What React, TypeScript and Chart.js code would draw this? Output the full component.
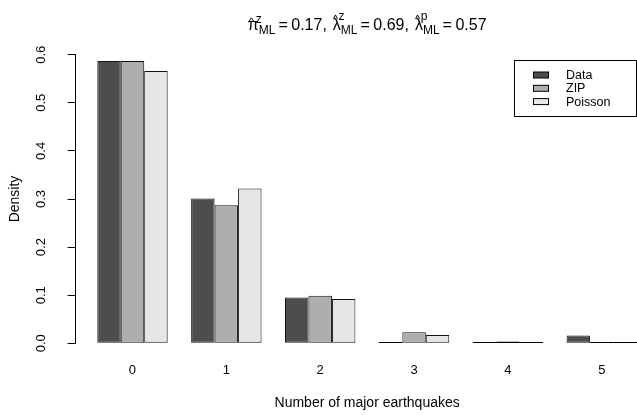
import React, { useEffect, useRef } from 'react';
import { Chart, registerables } from 'chart.js';

Chart.register(...registerables);

const FONT = '"Liberation Sans", Arial, Helvetica, sans-serif';

// ---- data ----
const categories = ['0', '1', '2', '3', '4', '5'];
const seriesNames = ['Data', 'ZIP', 'Poisson'];
const dataValues = [0.587, 0.301, 0.095, 0, 0, 0.016];
const zipValues = [0.587, 0.287, 0.099, 0.023, 0.004, 0.0005];
const poissonValues = [0.566, 0.322, 0.092, 0.017, 0.0025, 0.0003];
const seriesColors = ['#4D4D4D', '#AEAEAE', '#E6E6E6'];
const yTickValues = [0, 0.1, 0.2, 0.3, 0.4, 0.5, 0.6];
const xTitle = 'Number of major earthquakes';
const yTitle = 'Density';
const titleSymbols = ['π', 'λ', 'λ'];
const titleSups = ['z', 'z', 'p'];
const titleSub = 'ML';
const titleValues = ['0.17', '0.69', '0.57'];

// bar-group geometry in R barplot units (3 bars + 1 space per group)
const groupCenter = (i: number) => 4 * i + 2.5;

function drawTitle(ctx: CanvasRenderingContext2D, cx: number, baseY: number) {
  const mainF = `16px ${FONT}`;
  const smallF = `12px ${FONT}`;
  type Seg = { text: string; font: string; x: number; y: number };
  const segs: Seg[] = [];
  const hats: { x: number; w: number; top: number }[] = [];
  let x = 0;
  const n = titleSymbols.length;
  for (let i = 0; i < n; i++) {
    ctx.font = mainF;
    const m = ctx.measureText(titleSymbols[i]);
    const w = m.width;
    const glyphTop = m.actualBoundingBoxAscent || 9;
    segs.push({ text: titleSymbols[i], font: mainF, x, y: 0 });
    const hatBottom = -glyphTop - 3;
    const hatTop = hatBottom - 4;
    hats.push({ x, w, top: hatTop });
    ctx.font = smallF;
    const supW = ctx.measureText(titleSups[i]).width;
    const subW = ctx.measureText(titleSub).width;
    segs.push({ text: titleSups[i], font: smallF, x: x + w * 0.72, y: hatTop + 5 });
    segs.push({ text: titleSub, font: smallF, x: x + w, y: 4.2 });
    x += Math.max(w + subW, w * 0.72 + supW) + 3;
    ctx.font = mainF;
    segs.push({ text: '=', font: mainF, x, y: 0 });
    x += ctx.measureText('=').width + 3.5;
    const val = i < n - 1 ? titleValues[i] + ',' : titleValues[i];
    segs.push({ text: val, font: mainF, x, y: 0 });
    x += ctx.measureText(val).width + (i < n - 1 ? 6 : 0);
  }
  const x0 = cx - x / 2;
  ctx.fillStyle = '#000';
  ctx.textAlign = 'left';
  ctx.textBaseline = 'alphabetic';
  segs.forEach((s) => {
    ctx.font = s.font;
    ctx.fillText(s.text, x0 + s.x, baseY + s.y);
  });
  ctx.strokeStyle = '#000';
  ctx.lineWidth = 1;
  hats.forEach((h) => {
    const l = x0 + h.x + h.w * 0.08;
    const r = x0 + h.x + h.w * 0.58;
    const mid = (l + r) / 2;
    ctx.beginPath();
    ctx.moveTo(l, baseY + h.top + 4);
    ctx.lineTo(mid, baseY + h.top);
    ctx.lineTo(r, baseY + h.top + 4);
    ctx.stroke();
  });
}

const rStylePlugin = {
  id: 'rStyle',
  afterDatasetsDraw(chart: any) {
    // R draws zero-height bars as a horizontal line
    const ctx = chart.ctx as CanvasRenderingContext2D;
    ctx.save();
    ctx.strokeStyle = '#000';
    ctx.lineWidth = 1;
    chart.data.datasets.forEach((_: any, di: number) => {
      const meta = chart.getDatasetMeta(di);
      meta.data.forEach((el: any) => {
        if (Math.abs(el.base - el.y) < 1.5) {
          const yy = Math.round(el.base) - 0.5;
          ctx.beginPath();
          ctx.moveTo(el.x - el.width / 2, yy);
          ctx.lineTo(el.x + el.width / 2, yy);
          ctx.stroke();
        }
      });
    });
    ctx.restore();
  },
  afterDraw(chart: any) {
    const ctx = chart.ctx as CanvasRenderingContext2D;
    const xs = chart.scales.x;
    const ys = chart.scales.y;
    const area = chart.chartArea;
    const plotCenterX = xs.getPixelForValue((0.08 + 24.92) / 2);
    ctx.save();
    ctx.fillStyle = '#000';

    // y tick labels (rotated, R style)
    ctx.font = `13px ${FONT}`;
    ctx.textAlign = 'center';
    ctx.textBaseline = 'middle';
    ys.ticks.forEach((t: any) => {
      const py = ys.getPixelForValue(t.value);
      ctx.save();
      ctx.translate(area.left - 34.5, py);
      ctx.rotate(-Math.PI / 2);
      ctx.fillText(Number(t.value).toFixed(1), 0, 0);
      ctx.restore();
    });

    // y title
    ctx.font = `14px ${FONT}`;
    ctx.save();
    ctx.translate(15, (area.top + area.bottom) / 2);
    ctx.rotate(-Math.PI / 2);
    ctx.fillText(yTitle, 0, 0);
    ctx.restore();

    // x title
    ctx.font = `14px ${FONT}`;
    ctx.fillText(xTitle, plotCenterX, 403);

    // main title
    drawTitle(ctx, plotCenterX, 29.5);

    // legend
    const boxL = 514.5, boxR = area.right - 0.5, boxT = 60.5, boxB = 116.5;
    ctx.strokeStyle = '#000';
    ctx.lineWidth = 1;
    ctx.strokeRect(boxL, boxT, boxR - boxL, boxB - boxT);
    ctx.font = `12.5px ${FONT}`;
    ctx.textAlign = 'left';
    ctx.textBaseline = 'middle';
    seriesNames.forEach((name, i) => {
      const cy = 75 + i * 13.3;
      ctx.fillStyle = seriesColors[i];
      ctx.fillRect(533.5, cy - 3, 15, 6);
      ctx.strokeRect(533.5, cy - 3, 15, 6);
      ctx.fillStyle = '#000';
      ctx.fillText(name, 566, cy + 0.5);
    });
    ctx.restore();
  },
};

export default function App() {
  const canvasRef = useRef<HTMLCanvasElement | null>(null);

  useEffect(() => {
    if (!canvasRef.current) return;
    Chart.defaults.font.family = FONT;
    const series = [dataValues, zipValues, poissonValues];
    const chart = new Chart(canvasRef.current, {
      type: 'bar',
      data: {
        datasets: series.map((vals, si) => ({
          label: seriesNames[si],
          data: categories.map((_, i) => ({ x: groupCenter(i), y: vals[i] })),
          backgroundColor: seriesColors[si],
          borderColor: '#111',
          borderWidth: 1,
          borderSkipped: false,
          categoryPercentage: 0.75,
          barPercentage: 1,
        })),
      },
      options: {
        responsive: false,
        animation: false,
        events: [],
        layout: { padding: { top: 54.7, left: 0, right: 0, bottom: 0 } },
        plugins: {
          legend: { display: false },
          title: { display: false },
          tooltip: { enabled: false },
        },
        scales: {
          x: {
            type: 'linear',
            min: 0.08,
            max: 24,
            offset: false,
            grid: { display: false, drawTicks: false },
            border: { display: false },
            afterBuildTicks: (scale: any) => {
              scale.ticks = categories.map((_, i) => ({ value: groupCenter(i) }));
            },
            afterFit: (scale: any) => {
              scale.height = 415 - 343.3;
            },
            ticks: {
              color: '#000',
              font: { size: 13, family: FONT },
              padding: 19,
              maxRotation: 0,
              autoSkip: false,
              callback: (v: any) => {
                const idx = Math.round((Number(v) - 2.5) / 4);
                return categories[idx] ?? '';
              },
            },
          },
          y: {
            type: 'linear',
            min: 0,
            max: 0.6,
            afterBuildTicks: (scale: any) => {
              scale.ticks = yTickValues.map((v) => ({ value: v }));
            },
            afterFit: (scale: any) => {
              scale.width = 75.7;
            },
            grid: {
              display: true,
              drawOnChartArea: false,
              drawTicks: true,
              tickLength: 8,
              color: '#000',
              lineWidth: 1,
            },
            border: { display: true, color: '#000', width: 1 },
            ticks: { display: false },
          },
        },
      },
      plugins: [rStylePlugin],
    });
    return () => chart.destroy();
  }, []);

  return (
    <div style={{ position: 'absolute', left: 0, top: 0, width: 637, height: 415, background: '#fff' }}>
      <canvas ref={canvasRef} width={637} height={415} style={{ display: 'block' }} />
    </div>
  );
}
